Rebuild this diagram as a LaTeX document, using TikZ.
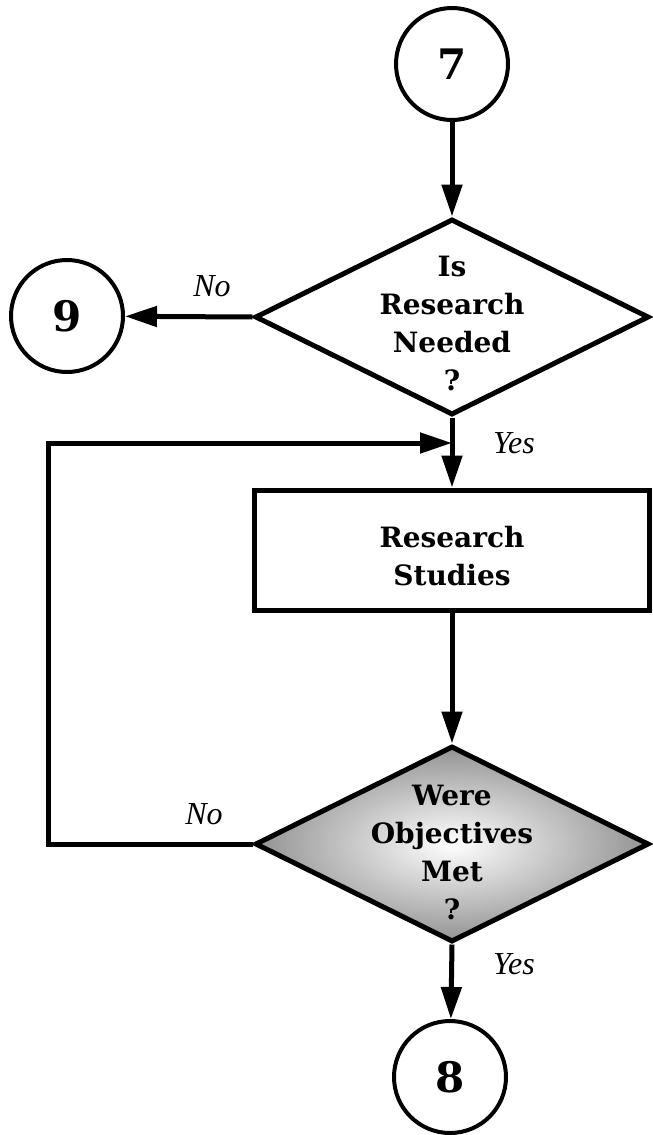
\documentclass[tikz,border=0pt]{standalone}
\usepackage{fontspec}
\setmainfont{DejaVu Serif}
\newfontfamily\answerfont{Liberation Serif}
\usetikzlibrary{arrows.meta, shapes.geometric, positioning}

\begin{document}
\begin{tikzpicture}[x=0.5pt, y=-0.5pt, line width=2.5pt,
    connector/.style={circle, draw, line width=2pt, minimum size=56pt, inner sep=0pt,
        font=\fontsize{21}{21}\selectfont\bfseries},
    decision/.style={diamond, draw, minimum width=197pt, minimum height=98pt, inner sep=0pt},
    qtext/.style={align=center, font=\fontsize{14}{19}\selectfont\bfseries},
    process/.style={rectangle, draw, minimum width=197.5pt, minimum height=60pt, inner sep=0pt},
    answer/.style={font=\answerfont\itshape\fontsize{16}{16}\selectfont},
    flow/.style={-{Triangle[length=16pt, width=10pt]}}]
    \useasboundingbox (0,0) rectangle (653,1135);

    % Off-page connectors
    \node[connector] (c7) at (452,64) {7};
    \node[connector] (c9) at (67,316) {9};
    \node[connector] (c8) at (450,1077) {8};

    % First question
    \node[decision] (needed) at (452,317) {};
    \node[qtext] (neededtxt) at (452,323) {Is\\Research\\Needed\\?};

    % Research box
    \node[process] (studies) at (452,550) {};
    \node[qtext] (studiestxt) at (452,556) {Research\\Studies};

    % Second question (shaded)
    \node[decision, inner color=white, outer color=gray!85] (met) at (452,844) {};
    \node[qtext] (mettxt) at (452,852) {Were\\Objectives\\Met\\?};

    % Flow lines
    \draw[flow] (c7) -- (needed.north);
    \draw[flow] (needed.west) -- (c9);
    \draw[flow] (needed.south) -- (studies.north);
    \draw[flow] (studies.south) -- (met.north);
    \draw[flow] (met.south) -- (c8);

    % Loop back when objectives not met
    \coordinate (loopleft) at (48,443);
    \coordinate (join) at (452,443);
    \draw[flow] (met.west) -- (met.west -| loopleft) |- (join);

    % Answers
    \node[answer] (no1) at (212,286) {No};
    \node[answer] (yes1) at (514,443) {Yes};
    \node[answer] (no2) at (204,814) {No};
    \node[answer] (yes2) at (514,964) {Yes};
\end{tikzpicture}
\end{document}
